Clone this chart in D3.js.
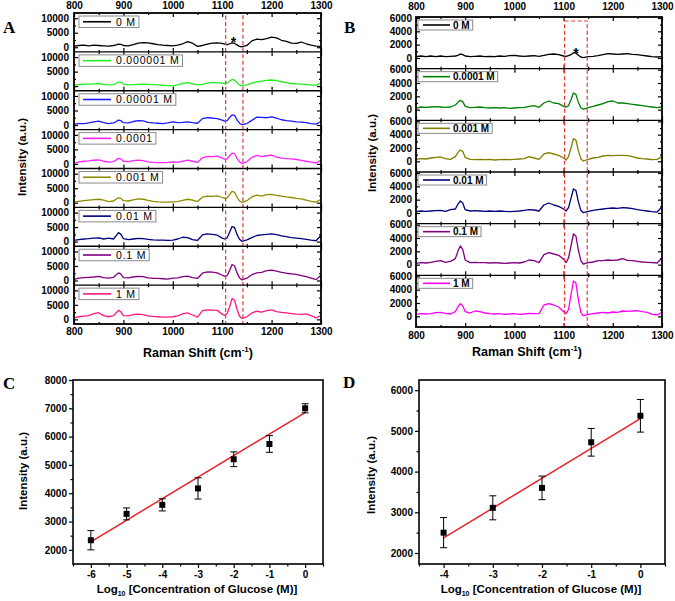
<!DOCTYPE html>
<html>
<head>
<meta charset="utf-8">
<style>
body { margin: 0; background: #fff; }
</style>
</head>
<body>
<svg id="fig" width="675" height="601"></svg>
<script src="https://d3js.org/d3.v7.min.js"></script>
<script>

// Raman shift grid (cm-1), shared by every spectrum
var shift = [800,810,820,830,840,850,860,870,880, 885,890,895,
  900,910,920,930,940,950,960,970,980,990,1000,1010,1020,1030,1040,1050,1060,1070,1080,1090,1100,
  1105,1110,1115,1120,1125,1130,1135,1140,
  1150,1160,1170,1180,1190,1200,1210,1220,1230,1240,1250,1260,1270,1280,1290,1300];

// panel A spectra
var a0M = [400,600,700,500,700,600,500,400,600, 800,1100,1000,
  600,500,900,1400,1600,1500,1200,900,700,600,500,700,1200,1900,1400,300,600,1100,1400,1500,1300,
  1100,900,1200,1500,1300,800,300,100,
  600,2200,2800,2600,3000,3500,3200,2400,2000,1400,1300,1800,1200,700,400,300];
var a1uM = [300,500,600,700,800,900,600,400,500, 900,1400,1300,
  700,400,500,600,700,600,500,400,300,200,100,400,900,1200,800,400,600,1000,1300,1200,1000,
  900,1100,1700,2300,2100,1200,400,100,
  400,1000,1500,1700,2000,2100,1900,1500,1200,900,800,700,600,400,300,1200];
var a10uM = [300,500,500,700,1100,1300,800,500,700, 1100,1700,1500,
  800,700,1200,1500,1400,900,700,600,500,700,1100,800,900,1100,800,600,2200,2500,2400,2200,1700,
  1300,1500,2600,3500,3300,1800,600,100,
  500,1600,2700,2600,2500,2800,2400,1800,1500,1300,1100,1000,800,500,300,1200];
var a100uM = [200,700,900,1000,1300,1400,900,600,800, 1300,1900,1700,
  900,800,1100,1300,1100,700,500,400,400,500,700,600,900,1300,900,500,2100,2600,2500,2700,2000,
  1600,1700,2800,3700,3500,1900,700,100,
  800,2200,2900,2500,2800,3000,2300,2000,1800,1700,1500,1200,900,600,300,1300];
var a1mM = [300,500,700,900,1100,1200,900,400,600, 1200,1700,1500,
  700,600,1000,1300,1200,800,500,300,200,200,300,400,800,1200,900,400,1900,2300,2200,2400,1800,
  1500,1700,2800,3900,3600,1900,600,100,
  700,2000,2600,2300,2800,2900,2500,2300,2000,1800,1500,1300,900,500,200,1200];
var a10mM = [400,700,900,1000,1200,1300,900,1200,900, 2000,3100,2500,
  1000,700,900,1100,1000,800,600,500,500,400,500,900,1500,1400,700,400,2300,2700,2500,2200,1200,
  900,1300,3200,5200,4800,2500,800,100,
  600,1400,2100,2300,2500,2700,2400,2000,1700,1400,1200,1000,800,500,300,2100];
var a100mM = [400,800,1000,1100,1200,1400,1000,800,1100, 1900,2600,2200,
  1000,900,1200,1400,1300,900,700,700,600,500,800,900,1300,1500,1000,700,2500,3000,2900,2600,1800,
  1400,1700,3400,5500,5000,2700,900,200,
  800,2000,2600,2800,3400,3600,3200,2800,2500,2300,2100,1700,1300,800,300,1800];
var a1M = [500,900,1100,1300,2000,2300,1300,900,1300, 2200,3100,2600,
  1300,1200,1600,1800,1600,1200,1000,900,800,800,900,1200,1900,2200,1500,800,3000,3300,3200,3100,1800,
  1400,2000,4300,7200,6600,3500,1100,300,
  900,2200,2800,2500,3000,3300,2700,2400,2200,2000,1800,1700,1900,1300,500,1400];

var labelsA = ["0 M", "0.000001 M", "0.00001 M", "0.0001", "0.001 M", "0.01 M", "0.1 M", "1 M"];
var colorsA = ["#000000", "#22ee22", "#1a1aff", "#ff22ff", "#8c8c00", "#000080", "#800080", "#ff1a80"];
var bandA = [1107, 1142];
var starA = 1123;

// panel B spectra
var b0M = [200,300,200,300,200,300,200,250,300, 400,600,500,
  300,200,250,300,200,250,200,300,250,350,400,300,250,300,350,250,400,550,600,500,300,
  250,350,500,800,750,400,150,50,
  200,250,350,500,650,600,550,600,650,550,500,400,300,200,150,200];
var b100uM = [200,400,350,400,450,400,350,400,700, 1100,1400,1200,
  500,300,350,400,300,250,300,250,300,200,250,300,350,500,600,350,1000,1300,1000,900,500,
  400,600,1500,2500,2300,1100,300,50,
  300,500,700,900,1200,1300,1000,1000,900,800,700,600,500,400,300,400];
var b1mM = [300,400,350,500,600,650,400,300,700, 1300,1700,1500,
  600,300,250,300,250,300,200,250,300,250,300,350,400,700,500,300,1100,1300,1100,900,500,
  200,700,2000,3400,3200,1600,400,50,
  300,500,600,800,900,850,900,900,850,700,500,400,350,250,300,700];
var b10mM = [200,300,250,300,350,400,250,500,600, 1300,1800,1500,
  500,300,350,300,250,300,250,300,250,200,250,300,400,500,450,300,1200,1500,1200,1000,600,
  300,800,2200,3600,3400,1700,400,50,
  250,400,500,600,700,750,700,800,750,650,500,400,300,200,150,900];
var b100mM = [200,300,250,350,500,600,350,500,900, 2000,2800,2300,
  700,300,350,300,300,250,300,250,200,250,300,250,400,700,600,300,1500,1800,1600,1400,800,
  300,1000,2800,4600,4300,2200,600,100,
  300,400,600,600,700,650,700,900,650,600,500,400,350,300,250,1000];
var b1M = [300,400,350,400,550,600,450,350,700, 1400,1900,1600,
  700,500,800,700,500,400,350,400,300,350,400,300,350,450,400,400,1700,1900,1700,1400,700,
  400,1000,3200,5300,5000,2500,600,100,
  300,400,500,600,500,650,600,800,750,800,850,700,600,300,200,600];

var labelsB = ["0 M", "0.0001 M", "0.001 M", "0.01 M", "0.1 M", "1 M"];
var colorsB = ["#000000", "#008000", "#808000", "#000080", "#800080", "#ff00ff"];
var bandB = [1102, 1148];
var starB = 1125;

// panel C calibration
var logC = [-6, -5, -4, -3, -2, -1, 0];
var meanC = [2340, 3270, 3590, 4170, 5200, 5740, 7000];
var errC = [340, 210, 215, 375, 260, 295, 160];
var fitC = [[-6, 2285], [0, 6850]];

// panel D calibration
var logD = [-4, -3, -2, -1, 0];
var meanD = [2500, 3110, 3600, 4720, 5370];
var errD = [370, 295, 290, 340, 400];
var fitD = [[-4, 2370], [0, 5300]];

var svg = d3.select("#fig");
var FONT = "'Liberation Sans', Arial, sans-serif";
var SERIF = "'Liberation Serif', 'Times New Roman', serif";
var plain = function (d) { return String(d); };

function styleAxis(sel, size) {
  sel.select(".domain").remove();
  sel.selectAll("line").attr("stroke", "#000").attr("stroke-width", 1.2);
  sel.selectAll("text").attr("font-family", FONT).attr("font-size", size)
    .attr("font-weight", "bold").attr("fill", "#000");
}

function drawStack(c) {
  var x = d3.scaleLinear().domain([800, 1300]).range([c.left, c.right]);
  var h = (c.bottom - c.top) / c.series.length;
  var major = d3.range(800, 1301, 100), minor = d3.range(850, 1300, 100);

  c.series.forEach(function (vals, i) {
    if (vals.length != shift.length) console.warn("length", c.labels[i], vals.length);
    var y0 = c.top + i * h;
    var y = d3.scaleLinear().domain(c.yDomain).range([y0 + h, y0]);
    var g = svg.append("g");

    // inward ticks on both edges of each strip
    [[d3.axisBottom, y0], [d3.axisTop, y0 + h]].forEach(function (a) {
      g.append("g").attr("transform", "translate(0," + a[1] + ")")
        .call(a[0](x).tickValues(major).tickSize(4).tickFormat("")).call(styleAxis, 10);
      g.append("g").attr("transform", "translate(0," + a[1] + ")")
        .call(a[0](x).tickValues(minor).tickSize(2).tickFormat("")).call(styleAxis, 10);
    });
    g.append("g").attr("transform", "translate(" + c.left + ",0)")
      .call(d3.axisLeft(y).tickValues(c.yTicks).tickSize(-4).tickPadding(c.yPad).tickFormat(plain))
      .call(styleAxis, 10);
    g.append("g").attr("transform", "translate(" + c.left + ",0)")
      .call(d3.axisLeft(y).tickValues(c.yMinor).tickSize(-2).tickFormat("")).call(styleAxis, 10);
    g.append("g").attr("transform", "translate(" + c.right + ",0)")
      .call(d3.axisRight(y).tickValues(c.yTicks).tickSize(-4).tickFormat("")).call(styleAxis, 10);
    g.append("g").attr("transform", "translate(" + c.right + ",0)")
      .call(d3.axisRight(y).tickValues(c.yMinor).tickSize(-2).tickFormat("")).call(styleAxis, 10);

    var line = d3.line()
      .x(function (d, j) { return x(shift[j]); })
      .y(function (d) { return y(d); });
    g.append("path").datum(vals).attr("d", line).attr("fill", "none")
      .attr("stroke", c.colors[i]).attr("stroke-width", 1.3).attr("stroke-linejoin", "round");

    // legend box
    var lg = g.append("g").attr("transform", "translate(" + (c.left + c.lgX) + "," + (y0 + c.lgY) + ")");
    var box = lg.append("rect").attr("fill", "#fff").attr("stroke", "#8a8a8a").attr("stroke-width", 1);
    lg.append("line").attr("x1", c.lgLine[0]).attr("x2", c.lgLine[1])
      .attr("y1", c.lgH / 2).attr("y2", c.lgH / 2)
      .attr("stroke", c.colors[i]).attr("stroke-width", 1.6);
    var t = lg.append("text").attr("x", c.lgText).attr("y", c.lgH / 2).attr("dy", "0.36em")
      .attr("font-family", FONT).attr("font-size", c.lgSize).attr("font-weight", c.lgWeight)
      .attr("letter-spacing", c.lgSpacing).text(c.labels[i]);
    box.attr("width", c.lgText + t.node().getBBox().width + 3).attr("height", c.lgH);
  });

  // red dashed window round the glucose band
  svg.append("rect")
    .attr("x", x(c.band[0])).attr("width", x(c.band[1]) - x(c.band[0]))
    .attr("y", c.bandTop).attr("height", c.bottom - c.bandTop)
    .attr("fill", "none").attr("stroke", "#e23a3a").attr("stroke-width", 1.2)
    .attr("stroke-dasharray", "4,2.5");

  svg.append("text").attr("x", x(c.star)).attr("y", c.starY)
    .attr("text-anchor", "middle").attr("font-family", FONT).attr("font-size", 14)
    .attr("font-weight", "bold").text("*");

  // strip separators and frame
  d3.range(1, c.series.length).forEach(function (k) {
    svg.append("line").attr("x1", c.left).attr("x2", c.right)
      .attr("y1", c.top + k * h).attr("y2", c.top + k * h)
      .attr("stroke", "#000").attr("stroke-width", 1.4);
  });
  svg.append("rect").attr("x", c.left).attr("y", c.top)
    .attr("width", c.right - c.left).attr("height", c.bottom - c.top)
    .attr("fill", "none").attr("stroke", "#000").attr("stroke-width", 1.8);

  svg.append("g").attr("transform", "translate(0," + c.top + ")")
    .call(d3.axisTop(x).tickValues(major).tickSize(0).tickPadding(c.topPad).tickFormat(plain))
    .call(styleAxis, 10);
  svg.append("g").attr("transform", "translate(0," + c.bottom + ")")
    .call(d3.axisBottom(x).tickValues(major).tickSize(0).tickPadding(c.botPad).tickFormat(plain))
    .call(styleAxis, 10);

  var xt = svg.append("text").attr("x", c.xTitle[0]).attr("y", c.xTitle[1])
    .attr("text-anchor", "middle").attr("font-family", FONT).attr("font-size", 12.5)
    .attr("font-weight", "bold");
  xt.append("tspan").text("Raman Shift (cm");
  xt.append("tspan").attr("font-size", 8).attr("dy", -5).text("-1");
  xt.append("tspan").attr("dy", 5).text(")");

  svg.append("text").attr("transform", "translate(" + c.yTitle[0] + "," + c.yTitle[1] + ") rotate(-90)")
    .attr("text-anchor", "middle").attr("font-family", FONT).attr("font-size", 11.5)
    .attr("font-weight", "bold").text("Intensity (a.u.)");

  svg.append("text").attr("x", c.tag[1]).attr("y", c.tag[2]).attr("font-family", SERIF)
    .attr("font-size", 17).attr("font-weight", "bold").text(c.tag[0]);
}

function drawFit(c) {
  var x = d3.scaleLinear().domain(c.xDomain).range([c.left, c.right]);
  var y = d3.scaleLinear().domain(c.yDomain).range([c.bottom, c.top]);
  var g = svg.append("g");
  var xMinor = c.xTicks.map(function (d) { return d - 0.5; })
    .concat([c.xTicks[c.xTicks.length - 1] + 0.5]);
  var yMinor = c.yTicks.map(function (d) { return d - 500; })
    .concat([c.yTicks[c.yTicks.length - 1] + 500])
    .filter(function (d) { return d > c.yDomain[0] && d < c.yDomain[1]; });

  g.append("g").attr("transform", "translate(0," + c.bottom + ")")
    .call(d3.axisBottom(x).tickValues(c.xTicks).tickSize(4).tickPadding(3).tickFormat(plain))
    .call(styleAxis, 10);
  g.append("g").attr("transform", "translate(0," + c.bottom + ")")
    .call(d3.axisBottom(x).tickValues(xMinor).tickSize(2.5).tickFormat("")).call(styleAxis, 10);
  g.append("g").attr("transform", "translate(" + c.left + ",0)")
    .call(d3.axisLeft(y).tickValues(c.yTicks).tickSize(4).tickPadding(2).tickFormat(plain))
    .call(styleAxis, 10);
  g.append("g").attr("transform", "translate(" + c.left + ",0)")
    .call(d3.axisLeft(y).tickValues(yMinor).tickSize(2.5).tickFormat("")).call(styleAxis, 10);

  g.append("rect").attr("x", c.left).attr("y", c.top)
    .attr("width", c.right - c.left).attr("height", c.bottom - c.top)
    .attr("fill", "none").attr("stroke", "#000").attr("stroke-width", 1.6);

  g.append("path").datum(c.fit)
    .attr("d", d3.line().x(function (d) { return x(d[0]); }).y(function (d) { return y(d[1]); }))
    .attr("fill", "none").attr("stroke", "#e8222a").attr("stroke-width", 1.5);

  var pts = c.xs.map(function (v, i) { return { x: v, y: c.ys[i], e: c.es[i] }; });
  var eb = g.selectAll(".eb").data(pts).enter().append("g");
  eb.append("line").attr("x1", function (d) { return x(d.x); }).attr("x2", function (d) { return x(d.x); })
    .attr("y1", function (d) { return y(d.y - d.e); }).attr("y2", function (d) { return y(d.y + d.e); })
    .attr("stroke", "#000").attr("stroke-width", 1);
  [-1, 1].forEach(function (s) {
    eb.append("line").attr("x1", function (d) { return x(d.x) - 3.5; }).attr("x2", function (d) { return x(d.x) + 3.5; })
      .attr("y1", function (d) { return y(d.y + s * d.e); }).attr("y2", function (d) { return y(d.y + s * d.e); })
      .attr("stroke", "#000").attr("stroke-width", 1);
  });
  eb.append("rect").attr("x", function (d) { return x(d.x) - 3; }).attr("y", function (d) { return y(d.y) - 3; })
    .attr("width", 6).attr("height", 6).attr("fill", "#000");

  var xt = svg.append("text").attr("x", c.xTitle[0]).attr("y", c.xTitle[1])
    .attr("text-anchor", "middle").attr("font-family", FONT).attr("font-size", 11.5)
    .attr("font-weight", "bold");
  xt.append("tspan").text("Log");
  xt.append("tspan").attr("font-size", 7).attr("dy", 3).text("10");
  xt.append("tspan").attr("dy", -3).text(" [Concentration of Glucose (M)]");

  svg.append("text").attr("transform", "translate(" + c.yTitle[0] + "," + c.yTitle[1] + ") rotate(-90)")
    .attr("text-anchor", "middle").attr("font-family", FONT).attr("font-size", 11.5)
    .attr("font-weight", "bold").text("Intensity (a.u.)");

  svg.append("text").attr("x", c.tag[1]).attr("y", c.tag[2]).attr("font-family", SERIF)
    .attr("font-size", 17).attr("font-weight", "bold").text(c.tag[0]);
}

drawStack({
  left: 74, right: 321, top: 13, bottom: 324,
  series: [a0M, a1uM, a10uM, a100uM, a1mM, a10mM, a100mM, a1M],
  labels: labelsA, colors: colorsA,
  yDomain: [-1600, 11800], yTicks: [0, 5000, 10000], yMinor: [2500, 7500], yPad: 5,
  lgX: 5, lgY: 3, lgH: 11.5, lgLine: [4, 32], lgText: 37, lgSize: 10.5, lgWeight: "normal", lgSpacing: 0.8,
  band: bandA, bandTop: 13, star: starA, starY: 47,
  topPad: 4, botPad: 4,
  xTitle: [198, 357], yTitle: [26, 157], tag: ["A", 3, 33]
});

drawStack({
  left: 416, right: 662, top: 17, bottom: 327,
  series: [b0M, b100uM, b1mM, b10mM, b100mM, b1M],
  labels: labelsB, colors: colorsB,
  yDomain: [-1600, 6150], yTicks: [0, 2000, 4000, 6000], yMinor: [1000, 3000, 5000], yPad: 4,
  lgX: 2, lgY: 3, lgH: 10, lgLine: [5, 32], lgText: 35, lgSize: 10, lgWeight: "bold", lgSpacing: 0,
  band: bandB, bandTop: 21, star: starB, starY: 58,
  topPad: 7, botPad: 5,
  xTitle: [527, 356], yTitle: [376, 153], tag: ["B", 344, 33]
});

drawFit({
  left: 73, right: 323, top: 380, bottom: 564,
  xDomain: [-6.5, 0.5], yDomain: [1500, 8000],
  xTicks: [-6, -5, -4, -3, -2, -1, 0], yTicks: [2000, 3000, 4000, 5000, 6000, 7000, 8000],
  xs: logC, ys: meanC, es: errC, fit: fitC,
  xTitle: [197, 593], yTitle: [27, 471], tag: ["C", 3, 389]
});

drawFit({
  left: 419, right: 665, top: 380, bottom: 564,
  xDomain: [-4.5, 0.5], yDomain: [1730, 6250],
  xTicks: [-4, -3, -2, -1, 0], yTicks: [2000, 3000, 4000, 5000, 6000],
  xs: logD, ys: meanD, es: errD, fit: fitD,
  xTitle: [541, 593], yTitle: [375, 475], tag: ["D", 343, 388]
});

</script>
</body>
</html>
